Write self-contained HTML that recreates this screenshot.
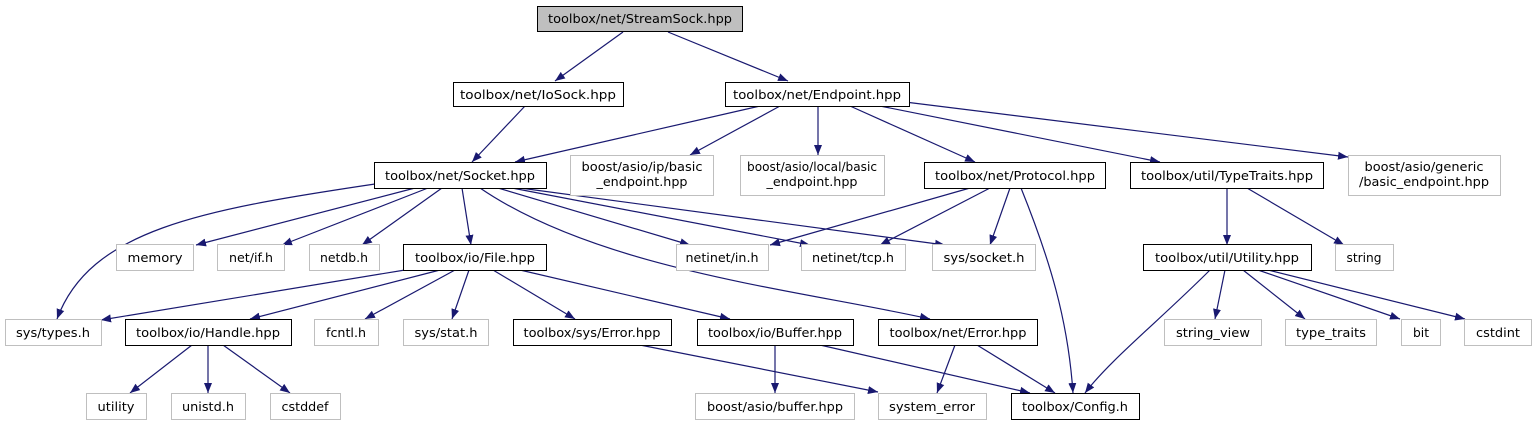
<!DOCTYPE html>
<html><head><meta charset="utf-8"><style>html,body{margin:0;padding:0;background:#fff}svg{display:block}text{font-family:"DejaVu Sans","Liberation Sans",sans-serif;font-size:12px;fill:#000}</style></head>
<body>
<svg width="1536" height="425" viewBox="0 0 1536 425" xmlns="http://www.w3.org/2000/svg">
<defs><marker id="a" viewBox="0 0 10 10" refX="10" refY="5" markerWidth="10" markerHeight="10" markerUnits="userSpaceOnUse" orient="auto"><path d="M0,1 L10,5 L0,9 z" fill="#191970"/></marker></defs>
<g fill="none" stroke="#191970" stroke-width="1.2" marker-end="url(#a)">
<path d="M623,32 L555,81"/>
<path d="M668,32 L788,81"/>
<path d="M525,106 L472,162"/>
<path d="M760,106 L515,162"/>
<path d="M780,106 L690,155"/>
<path d="M818,106 L818,155"/>
<path d="M850,106 L975,162"/>
<path d="M880,106 L1160,162"/>
<path d="M905,102 L1348,157"/>
<path d="M375,184 C200,210 90,230 57,319"/>
<path d="M415,188 L196,245"/>
<path d="M428,188 L282,245"/>
<path d="M442,188 L362,245"/>
<path d="M462,188 L471,245"/>
<path d="M480,188 C600,270 800,290 930,319"/>
<path d="M498,188 L690,245"/>
<path d="M512,188 L810,245"/>
<path d="M520,188 L945,245"/>
<path d="M970,188 L770,245"/>
<path d="M990,188 L880,245"/>
<path d="M1010,188 L990,245"/>
<path d="M1021,188 C1050,260 1068,320 1073,393"/>
<path d="M1227,188 L1227,245"/>
<path d="M1247,188 L1344,245"/>
<path d="M405,270 L101,320"/>
<path d="M440,270 L250,319"/>
<path d="M455,270 L365,319"/>
<path d="M469,270 L452,319"/>
<path d="M493,270 L575,319"/>
<path d="M520,270 L730,319"/>
<path d="M192,345 L130,393"/>
<path d="M208,345 L208,393"/>
<path d="M223,345 L290,393"/>
<path d="M640,345 L878,392"/>
<path d="M775,345 L775,393"/>
<path d="M820,345 L1030,393"/>
<path d="M955,345 L937,393"/>
<path d="M977,345 L1055,393"/>
<path d="M1210,270 C1160,320 1110,360 1085,393"/>
<path d="M1225,270 L1215,319"/>
<path d="M1243,270 L1305,319"/>
<path d="M1258,270 L1400,319"/>
<path d="M1268,270 L1465,319"/>
</g>
<g stroke-width="1">
<rect x="537.5" y="6.5" width="205" height="25" fill="#bfbfbf" stroke="#000"/>
<rect x="453.5" y="82.5" width="170" height="24" fill="#fff" stroke="#000"/>
<rect x="725.5" y="82.5" width="184" height="24" fill="#fff" stroke="#000"/>
<rect x="374.5" y="162.5" width="172" height="26" fill="#fff" stroke="#000"/>
<rect x="570.5" y="155.5" width="143" height="40" fill="#fff" stroke="#bfbfbf"/>
<rect x="740.5" y="155.5" width="144" height="40" fill="#fff" stroke="#bfbfbf"/>
<rect x="924.5" y="162.5" width="181" height="26" fill="#fff" stroke="#000"/>
<rect x="1130.5" y="162.5" width="193" height="26" fill="#fff" stroke="#000"/>
<rect x="1348.5" y="155.5" width="152" height="40" fill="#fff" stroke="#bfbfbf"/>
<rect x="116.5" y="244.5" width="77" height="26" fill="#fff" stroke="#bfbfbf"/>
<rect x="217.5" y="244.5" width="67" height="26" fill="#fff" stroke="#bfbfbf"/>
<rect x="309.5" y="244.5" width="70" height="26" fill="#fff" stroke="#bfbfbf"/>
<rect x="403.5" y="244.5" width="143" height="26" fill="#fff" stroke="#000"/>
<rect x="676.5" y="244.5" width="92" height="26" fill="#fff" stroke="#bfbfbf"/>
<rect x="801.5" y="244.5" width="104" height="26" fill="#fff" stroke="#bfbfbf"/>
<rect x="932.5" y="244.5" width="103" height="26" fill="#fff" stroke="#bfbfbf"/>
<rect x="1143.5" y="244.5" width="168" height="26" fill="#fff" stroke="#000"/>
<rect x="1335.5" y="244.5" width="58" height="26" fill="#fff" stroke="#bfbfbf"/>
<rect x="5.5" y="319.5" width="96" height="26" fill="#fff" stroke="#bfbfbf"/>
<rect x="125.5" y="319.5" width="166" height="26" fill="#fff" stroke="#000"/>
<rect x="314.5" y="319.5" width="64" height="26" fill="#fff" stroke="#bfbfbf"/>
<rect x="403.5" y="319.5" width="85" height="26" fill="#fff" stroke="#bfbfbf"/>
<rect x="513.5" y="319.5" width="158" height="26" fill="#fff" stroke="#000"/>
<rect x="697.5" y="319.5" width="156" height="26" fill="#fff" stroke="#000"/>
<rect x="878.5" y="319.5" width="159" height="26" fill="#fff" stroke="#000"/>
<rect x="1164.5" y="319.5" width="97" height="26" fill="#fff" stroke="#bfbfbf"/>
<rect x="1285.5" y="319.5" width="91" height="26" fill="#fff" stroke="#bfbfbf"/>
<rect x="1401.5" y="319.5" width="39" height="26" fill="#fff" stroke="#bfbfbf"/>
<rect x="1464.5" y="319.5" width="67" height="26" fill="#fff" stroke="#bfbfbf"/>
<rect x="86.5" y="393.5" width="60" height="26" fill="#fff" stroke="#bfbfbf"/>
<rect x="171.5" y="393.5" width="74" height="26" fill="#fff" stroke="#bfbfbf"/>
<rect x="270.5" y="393.5" width="70" height="26" fill="#fff" stroke="#bfbfbf"/>
<rect x="695.5" y="393.5" width="159" height="26" fill="#fff" stroke="#bfbfbf"/>
<rect x="878.5" y="393.5" width="108" height="26" fill="#fff" stroke="#bfbfbf"/>
<rect x="1011.5" y="393.5" width="128" height="26" fill="#fff" stroke="#000"/>
</g>
<g text-anchor="middle">
<text x="640" y="23" textLength="184" lengthAdjust="spacingAndGlyphs">toolbox/net/StreamSock.hpp</text>
<text x="538" y="99" textLength="156" lengthAdjust="spacingAndGlyphs">toolbox/net/IoSock.hpp</text>
<text x="817" y="99" textLength="168" lengthAdjust="spacingAndGlyphs">toolbox/net/Endpoint.hpp</text>
<text x="460" y="180" textLength="150" lengthAdjust="spacingAndGlyphs">toolbox/net/Socket.hpp</text>
<text x="642" y="171" textLength="121" lengthAdjust="spacingAndGlyphs">boost/asio/ip/basic</text>
<text x="642" y="186" textLength="91" lengthAdjust="spacingAndGlyphs">_endpoint.hpp</text>
<text x="812" y="171" textLength="130" lengthAdjust="spacingAndGlyphs">boost/asio/local/basic</text>
<text x="812" y="186" textLength="91" lengthAdjust="spacingAndGlyphs">_endpoint.hpp</text>
<text x="1015" y="180" textLength="160" lengthAdjust="spacingAndGlyphs">toolbox/net/Protocol.hpp</text>
<text x="1227" y="180" textLength="172" lengthAdjust="spacingAndGlyphs">toolbox/util/TypeTraits.hpp</text>
<text x="1424" y="171" textLength="119" lengthAdjust="spacingAndGlyphs">boost/asio/generic</text>
<text x="1424" y="186" textLength="130" lengthAdjust="spacingAndGlyphs">/basic_endpoint.hpp</text>
<text x="155" y="262" textLength="55" lengthAdjust="spacingAndGlyphs">memory</text>
<text x="251" y="262" textLength="44" lengthAdjust="spacingAndGlyphs">net/if.h</text>
<text x="344" y="262" textLength="48" lengthAdjust="spacingAndGlyphs">netdb.h</text>
<text x="475" y="262" textLength="120" lengthAdjust="spacingAndGlyphs">toolbox/io/File.hpp</text>
<text x="722" y="262" textLength="73" lengthAdjust="spacingAndGlyphs">netinet/in.h</text>
<text x="853" y="262" textLength="82" lengthAdjust="spacingAndGlyphs">netinet/tcp.h</text>
<text x="984" y="262" textLength="81" lengthAdjust="spacingAndGlyphs">sys/socket.h</text>
<text x="1227" y="262" textLength="144" lengthAdjust="spacingAndGlyphs">toolbox/util/Utility.hpp</text>
<text x="1364" y="262" textLength="35" lengthAdjust="spacingAndGlyphs">string</text>
<text x="53" y="337" textLength="74" lengthAdjust="spacingAndGlyphs">sys/types.h</text>
<text x="208" y="337" textLength="144" lengthAdjust="spacingAndGlyphs">toolbox/io/Handle.hpp</text>
<text x="346" y="337" textLength="40" lengthAdjust="spacingAndGlyphs">fcntl.h</text>
<text x="446" y="337" textLength="63" lengthAdjust="spacingAndGlyphs">sys/stat.h</text>
<text x="592" y="337" textLength="137" lengthAdjust="spacingAndGlyphs">toolbox/sys/Error.hpp</text>
<text x="775" y="337" textLength="134" lengthAdjust="spacingAndGlyphs">toolbox/io/Buffer.hpp</text>
<text x="958" y="337" textLength="137" lengthAdjust="spacingAndGlyphs">toolbox/net/Error.hpp</text>
<text x="1213" y="337" textLength="74" lengthAdjust="spacingAndGlyphs">string_view</text>
<text x="1331" y="337" textLength="70" lengthAdjust="spacingAndGlyphs">type_traits</text>
<text x="1421" y="337" textLength="16" lengthAdjust="spacingAndGlyphs">bit</text>
<text x="1498" y="337" textLength="44" lengthAdjust="spacingAndGlyphs">cstdint</text>
<text x="116" y="411" textLength="37" lengthAdjust="spacingAndGlyphs">utility</text>
<text x="208" y="411" textLength="52" lengthAdjust="spacingAndGlyphs">unistd.h</text>
<text x="305" y="411" textLength="47" lengthAdjust="spacingAndGlyphs">cstddef</text>
<text x="775" y="411" textLength="136" lengthAdjust="spacingAndGlyphs">boost/asio/buffer.hpp</text>
<text x="932" y="411" textLength="86" lengthAdjust="spacingAndGlyphs">system_error</text>
<text x="1075" y="411" textLength="106" lengthAdjust="spacingAndGlyphs">toolbox/Config.h</text>
</g>
</svg>
</body></html>
